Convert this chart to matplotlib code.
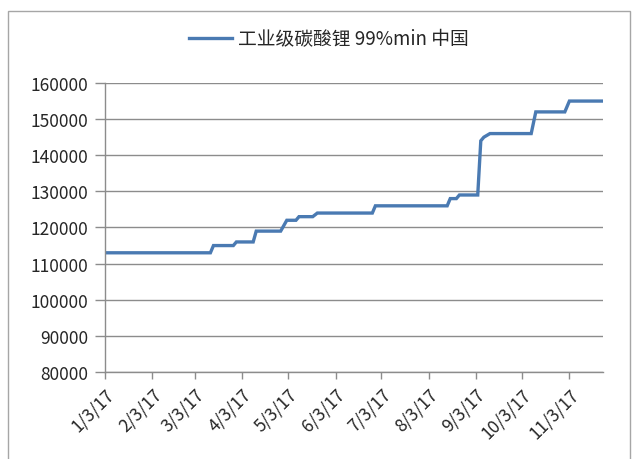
import matplotlib
matplotlib.use('Agg')
import matplotlib.pyplot as plt
import matplotlib.dates as mdates
from matplotlib.patches import Rectangle
import numpy as np
import pandas as pd

plt.rcParams['font.family'] = ['Noto Sans CJK SC', 'DejaVu Sans']

# 价格变化点 (每个价位的起止日期)
dates = ['2017-01-03', '2017-03-13', '2017-03-15', '2017-03-28', '2017-03-30',
         '2017-04-10', '2017-04-12', '2017-04-28', '2017-05-02', '2017-05-08',
         '2017-05-10', '2017-05-19', '2017-05-22', '2017-06-27', '2017-06-29',
         '2017-08-15', '2017-08-17', '2017-08-21', '2017-08-23', '2017-09-04',
         '2017-09-06', '2017-09-08', '2017-09-12', '2017-10-09', '2017-10-12',
         '2017-10-31', '2017-11-03', '2017-11-24']
prices = [113000, 113000, 115000, 115000, 116000,
          116000, 119000, 119000, 122000, 122000,
          123000, 123000, 124000, 124000, 126000,
          126000, 128000, 128000, 129000, 129000,
          144000, 145000, 146000, 146000, 152000,
          152000, 155000, 155000]
series_name = '工业级碳酸锂 99%min 中国'
tick_dates = ['2017-%02d-03' % m for m in range(1, 12)]
tick_labels = ['%d/3/17' % m for m in range(1, 12)]

x = pd.to_datetime(dates)

fig = plt.figure(figsize=(6.39, 4.6), dpi=100)
ax = fig.add_axes([105 / 639, 1 - 373 / 460, 498 / 639, 289 / 460])

ax.plot(x, prices, color='#4a7ab2', lw=2.4, label=series_name, solid_joinstyle='miter')

ax.set_ylim(80000, 160000)
ax.set_yticks(np.arange(80000, 160001, 10000))
ax.set_xlim(pd.Timestamp('2017-01-03'), pd.Timestamp('2017-11-25'))
ax.set_xticks(pd.to_datetime(tick_dates))
ax.set_xticklabels(tick_labels, rotation=45, ha='right', rotation_mode='anchor')

ax.grid(axis='y', color='#8c8c8c', lw=1)
ax.set_axisbelow(True)
for s in ['top', 'right']:
    ax.spines[s].set_visible(False)
for s in ['left', 'bottom']:
    ax.spines[s].set_color('#8c8c8c')
    ax.spines[s].set_linewidth(1)
ax.tick_params(axis='both', colors='#8c8c8c', width=1,
               labelcolor='#262626', labelsize=12.5)
ax.tick_params(axis='y', length=7, pad=5)
ax.tick_params(axis='x', length=5, pad=4)

leg = fig.legend(loc='center', bbox_to_anchor=(0.515, 1 - 40 / 460), frameon=False,
                 fontsize=13.5, handlelength=2.3, handletextpad=0.3)
for t in leg.get_texts():
    t.set_color('#262626')

fig.patches.append(Rectangle((8 / 639, -0.1), 622 / 639, 1.1 - 12 / 460,
                             transform=fig.transFigure, fill=False,
                             edgecolor='#a6a6a6', lw=1))

fig.savefig('out.png', dpi=100)
